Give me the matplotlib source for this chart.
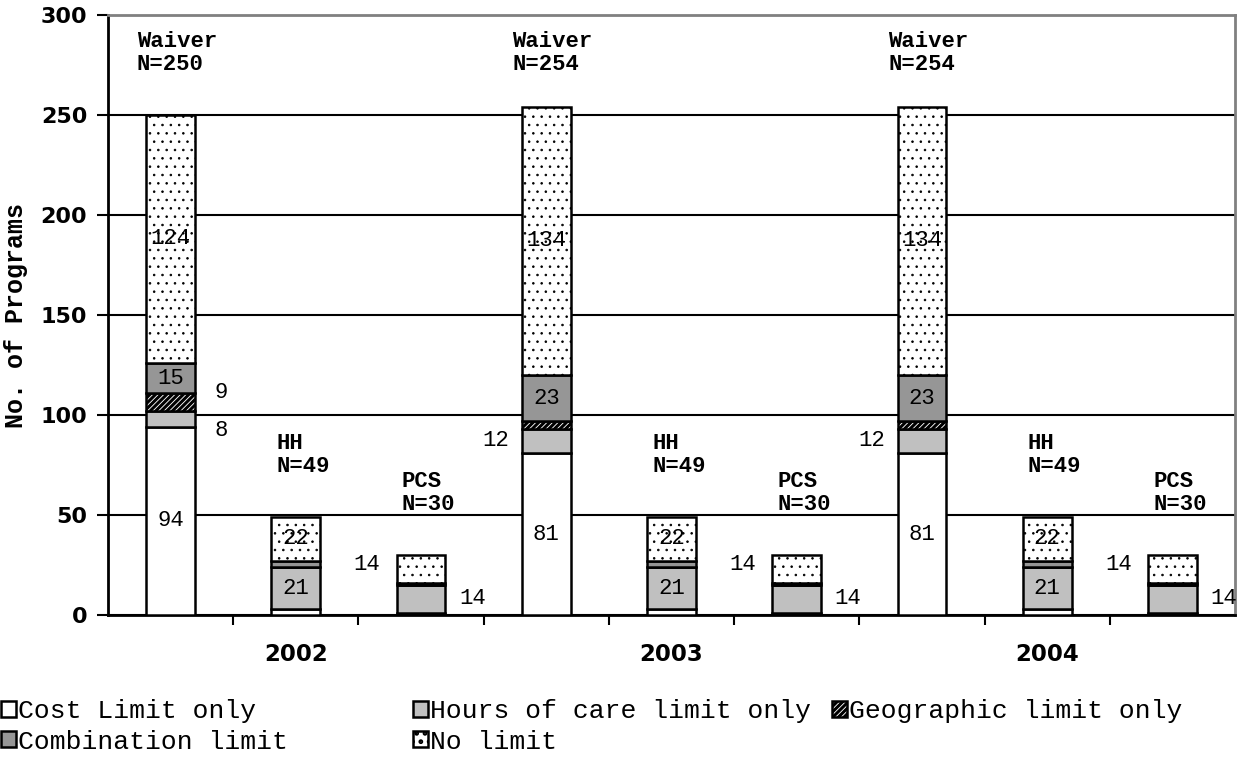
import matplotlib
matplotlib.use("Agg")
import matplotlib.pyplot as plt
import numpy as np

years = ['2002', '2003', '2004']
programs = ['Waiver', 'HH', 'PCS']
totals = [250, 49, 30, 254, 49, 30, 254, 49, 30]

cost = [94, 3, 1, 81, 3, 1, 81, 3, 1]
hours = [8, 21, 14, 12, 21, 14, 12, 21, 14]
geo = [9, 0, 0, 4, 0, 0, 4, 0, 0]
combo = [15, 3, 1, 23, 3, 1, 23, 3, 1]
nolimit = [124, 22, 14, 134, 22, 14, 134, 22, 14]

# name, values, face colour, hatch, hatch line width
series = [
    ('Cost Limit only', cost, 'white', None, 1.0),
    ('Hours of care limit only', hours, '#c0c0c0', None, 1.0),
    ('Geographic limit only', geo, 'white', '//////', 2.2),
    ('Combination limit', combo, '#969696', None, 1.0),
    ('No limit', nolimit, 'white', '..', 0.6),
]

mono = 'Liberation Mono'

fig = plt.figure(figsize=(12.37, 7.62), dpi=100)
ax = fig.add_axes([108 / 1237, 147 / 762, 1127 / 1237, 600 / 762])

x = np.arange(9) + 0.5
w = 0.39
bottom = np.zeros(9)
handles = {}
for name, vals, color, hatch, hlw in series:
    plt.rcParams['hatch.linewidth'] = hlw
    vals = np.array(vals)
    bc = ax.bar(x, vals, w, bottom=bottom, color=color, edgecolor='black',
                linewidth=1.8, hatch=hatch, zorder=3, label=name)
    handles[name] = bc
    bottom += vals

# segment labels
stack = np.array([cost, hours, geo, combo, nolimit])
cum = np.cumsum(stack, axis=0)
mid = cum - stack / 2
lab = dict(fontfamily=mono, fontsize=16, ha='center', va='center', zorder=5)
for i in range(9):
    kind = programs[i % 3]
    if kind == 'Waiver':
        ax.text(x[i], mid[0, i], str(cost[i]), **lab)
        ax.text(x[i], mid[3, i], str(combo[i]), **lab)
        ax.text(x[i], mid[4, i], str(nolimit[i]), **lab)
        if i == 0:
            ax.text(x[i] + 0.4, mid[1, i] - 6, str(hours[i]), **lab)
            ax.text(x[i] + 0.4, mid[2, i] + 4.5, str(geo[i]), **lab)
        else:
            ax.text(x[i] - 0.4, mid[1, i], str(hours[i]), **lab)
    elif kind == 'HH':
        ax.text(x[i], mid[1, i], str(hours[i]), **lab)
        ax.text(x[i], mid[4, i], str(nolimit[i]), **lab)
    else:
        ax.text(x[i] - 0.43, mid[4, i] + 2.5, str(nolimit[i]), **lab)
        ax.text(x[i] + 0.41, mid[1, i], str(hours[i]), **lab)
    top = totals[i] + 31 if kind != 'Waiver' else 281
    ax.text(x[i] + (0.05 if kind == 'Waiver' else 0.06), top,
            f'{kind}\nN={totals[i]}', fontfamily=mono, fontsize=16,
            fontweight='bold', ha='center', va='center', multialignment='left',
            linespacing=1.15, zorder=5)

ax.set_xlim(0, 9)
ax.set_ylim(0, 300)
ax.set_yticks(np.arange(0, 301, 50))
ax.yaxis.grid(True, color='black', linewidth=1.5)
ax.set_axisbelow(True)
ax.tick_params(axis='y', length=8, width=1.5, pad=7, labelsize=16)
for t in ax.get_yticklabels():
    t.set_fontweight('bold')
    t.set_fontfamily('DejaVu Sans')

ax.set_xticks([1.5, 4.5, 7.5])
ax.set_xticklabels(years, fontweight='bold', fontsize=16.5, fontfamily='DejaVu Sans')
ax.set_xticks(np.arange(1, 9), minor=True)
ax.tick_params(axis='x', which='major', length=0, pad=20)
ax.tick_params(axis='x', which='minor', length=7, width=1.5)

for s in ['left', 'bottom']:
    ax.spines[s].set_color('black')
    ax.spines[s].set_linewidth(2)
for s in ['top', 'right']:
    ax.spines[s].set_color('#808080')
    ax.spines[s].set_linewidth(2)

ax.set_ylabel('No. of Programs', fontfamily=mono, fontweight='bold', fontsize=18)
ax.yaxis.set_label_coords(-80 / 1127, 0.5)

plt.rcParams['hatch.linewidth'] = 2.2
leg_kw = dict(loc='upper left', frameon=False, prop={'family': mono, 'size': 19},
              handlelength=0.55, handleheight=0.55, handletextpad=0.1,
              borderpad=0, borderaxespad=0, labelspacing=0.25)
groups = [(['Cost Limit only', 'Combination limit'], 1),
          (['Hours of care limit only', 'No limit'], 413),
          (['Geographic limit only'], 832)]
for names, px in groups:
    fig.legend([handles[n] for n in names], names,
               bbox_to_anchor=(px / 1237, 1 - 699 / 762), **leg_kw)

fig.savefig('out.png', dpi=100)
